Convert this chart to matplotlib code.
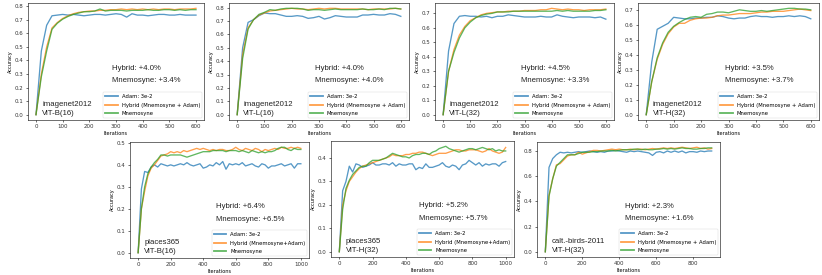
import matplotlib
matplotlib.use("Agg")
import matplotlib.pyplot as plt
import numpy as np

# ---------------- data ----------------
it_600 = list(range(0, 601, 20))
it_1000 = list(range(0, 1001, 20))
it_900 = list(range(0, 901, 20))

adam1 = [0.0, 0.47, 0.66, 0.73, 0.735, 0.74, 0.735, 0.74, 0.735, 0.73,
         0.735, 0.74, 0.74, 0.735, 0.74, 0.745, 0.74, 0.72, 0.745, 0.735,
         0.735, 0.73, 0.735, 0.74, 0.74, 0.735, 0.735, 0.74, 0.735, 0.735, 0.735]
hybrid1 = [0.0, 0.30, 0.50, 0.64, 0.68, 0.71, 0.73, 0.745, 0.755, 0.76,
           0.765, 0.765, 0.77, 0.77, 0.775, 0.775, 0.78, 0.775, 0.78, 0.775,
           0.78, 0.775, 0.78, 0.775, 0.78, 0.78, 0.775, 0.78, 0.78, 0.78, 0.785]
mnem1 = [0.0, 0.28, 0.47, 0.63, 0.675, 0.705, 0.725, 0.74, 0.75, 0.76,
         0.76, 0.765, 0.78, 0.765, 0.77, 0.77, 0.77, 0.765, 0.77, 0.77,
         0.77, 0.775, 0.77, 0.77, 0.775, 0.775, 0.77, 0.775, 0.77, 0.775, 0.775]

adam2 = [0.0, 0.50, 0.69, 0.71, 0.74, 0.76, 0.755, 0.755, 0.745, 0.735,
         0.735, 0.74, 0.735, 0.72, 0.725, 0.735, 0.715, 0.725, 0.74, 0.735,
         0.73, 0.73, 0.73, 0.745, 0.745, 0.75, 0.745, 0.745, 0.755, 0.75, 0.735]
hybrid2 = [0.0, 0.45, 0.65, 0.71, 0.745, 0.76, 0.775, 0.78, 0.785, 0.79,
           0.795, 0.79, 0.79, 0.785, 0.79, 0.795, 0.79, 0.795, 0.795, 0.79,
           0.79, 0.79, 0.79, 0.79, 0.785, 0.79, 0.79, 0.79, 0.79, 0.795, 0.79]
mnem2 = [0.0, 0.42, 0.64, 0.71, 0.75, 0.765, 0.785, 0.78, 0.79, 0.795,
         0.795, 0.795, 0.79, 0.78, 0.785, 0.785, 0.78, 0.785, 0.79, 0.785,
         0.785, 0.785, 0.785, 0.79, 0.785, 0.785, 0.79, 0.785, 0.795, 0.795, 0.79]

adam3 = [0.0, 0.44, 0.63, 0.68, 0.685, 0.68, 0.68, 0.675, 0.68, 0.67,
         0.68, 0.68, 0.69, 0.685, 0.68, 0.675, 0.675, 0.675, 0.68, 0.675,
         0.675, 0.69, 0.68, 0.675, 0.67, 0.675, 0.675, 0.675, 0.67, 0.675, 0.66]
hybrid3 = [0.0, 0.30, 0.45, 0.55, 0.61, 0.65, 0.67, 0.69, 0.70, 0.705,
           0.71, 0.71, 0.715, 0.715, 0.715, 0.72, 0.72, 0.72, 0.725, 0.725,
           0.735, 0.73, 0.725, 0.73, 0.725, 0.725, 0.72, 0.725, 0.725, 0.725, 0.73]
mnem3 = [0.0, 0.30, 0.43, 0.53, 0.60, 0.64, 0.67, 0.685, 0.695, 0.70,
         0.71, 0.71, 0.71, 0.715, 0.715, 0.715, 0.715, 0.715, 0.715, 0.715,
         0.715, 0.72, 0.715, 0.72, 0.715, 0.715, 0.715, 0.715, 0.72, 0.72, 0.725]

adam4 = [0.0, 0.35, 0.57, 0.59, 0.61, 0.65, 0.645, 0.64, 0.64, 0.645,
         0.645, 0.65, 0.65, 0.66, 0.655, 0.645, 0.64, 0.645, 0.645, 0.655,
         0.66, 0.655, 0.655, 0.65, 0.655, 0.655, 0.66, 0.655, 0.66, 0.655, 0.64]
hybrid4 = [0.0, 0.22, 0.37, 0.47, 0.54, 0.585, 0.61, 0.61, 0.63, 0.64,
           0.645, 0.645, 0.65, 0.66, 0.665, 0.665, 0.67, 0.675, 0.675, 0.675,
           0.68, 0.685, 0.685, 0.69, 0.69, 0.69, 0.695, 0.70, 0.705, 0.70, 0.695]
mnem4 = [0.0, 0.22, 0.38, 0.48, 0.55, 0.59, 0.615, 0.635, 0.65, 0.655,
         0.65, 0.67, 0.675, 0.685, 0.685, 0.68, 0.69, 0.70, 0.695, 0.69,
         0.69, 0.695, 0.69, 0.695, 0.70, 0.705, 0.71, 0.71, 0.705, 0.705, 0.70]

adam5 = [0.0, 0.29, 0.37, 0.365, 0.39, 0.40, 0.39, 0.405, 0.40, 0.395,
         0.40, 0.395, 0.40, 0.405, 0.40, 0.41, 0.40, 0.395, 0.40, 0.405,
         0.385, 0.39, 0.40, 0.395, 0.41, 0.40, 0.415, 0.38, 0.405, 0.40,
         0.405, 0.40, 0.41, 0.395, 0.40, 0.405, 0.395, 0.39, 0.405, 0.40,
         0.385, 0.395, 0.395, 0.40, 0.405, 0.395, 0.40, 0.405, 0.385, 0.405,
         0.405]
hybrid5 = [0.0, 0.20, 0.28, 0.35, 0.385, 0.40, 0.42, 0.44, 0.445, 0.45,
           0.46, 0.455, 0.46, 0.455, 0.465, 0.46, 0.465, 0.47, 0.475, 0.47,
           0.475, 0.47, 0.465, 0.47, 0.465, 0.47, 0.47, 0.465, 0.465, 0.47,
           0.48, 0.47, 0.465, 0.475, 0.47, 0.465, 0.475, 0.47, 0.46, 0.47,
           0.465, 0.47, 0.475, 0.47, 0.48, 0.475, 0.475, 0.48, 0.475, 0.48,
           0.475]
mnem5 = [0.0, 0.20, 0.30, 0.36, 0.39, 0.41, 0.425, 0.445, 0.445, 0.44,
         0.445, 0.445, 0.445, 0.445, 0.44, 0.435, 0.44, 0.445, 0.45, 0.455,
         0.46, 0.46, 0.46, 0.465, 0.465, 0.465, 0.465, 0.46, 0.465, 0.465,
         0.465, 0.46, 0.465, 0.46, 0.455, 0.465, 0.46, 0.455, 0.46, 0.455,
         0.46, 0.46, 0.465, 0.475, 0.48, 0.48, 0.47, 0.465, 0.475, 0.47,
         0.47]

adam6 = [0.0, 0.26, 0.30, 0.365, 0.34, 0.375, 0.37, 0.36, 0.365, 0.37,
         0.38, 0.37, 0.37, 0.375, 0.375, 0.37, 0.38, 0.365, 0.375, 0.37,
         0.37, 0.375, 0.375, 0.35, 0.36, 0.355, 0.375, 0.36, 0.36, 0.365,
         0.37, 0.38, 0.365, 0.36, 0.37, 0.365, 0.35, 0.37, 0.375, 0.39,
         0.38, 0.37, 0.38, 0.365, 0.375, 0.37, 0.375, 0.375, 0.365, 0.38,
         0.385]
hybrid6 = [0.0, 0.20, 0.26, 0.30, 0.32, 0.34, 0.355, 0.365, 0.37, 0.375,
           0.38, 0.385, 0.39, 0.395, 0.40, 0.405, 0.415, 0.41, 0.41, 0.41,
           0.415, 0.415, 0.42, 0.42, 0.425, 0.425, 0.42, 0.415, 0.41, 0.415,
           0.42, 0.42, 0.42, 0.425, 0.43, 0.435, 0.435, 0.43, 0.43, 0.435,
           0.435, 0.435, 0.43, 0.425, 0.43, 0.44, 0.43, 0.425, 0.42, 0.425,
           0.445]
mnem6 = [0.0, 0.18, 0.27, 0.305, 0.33, 0.345, 0.36, 0.365, 0.365, 0.38,
         0.39, 0.39, 0.39, 0.395, 0.40, 0.41, 0.42, 0.415, 0.41, 0.405,
         0.405, 0.40, 0.41, 0.415, 0.415, 0.42, 0.42, 0.415, 0.425, 0.43,
         0.44, 0.445, 0.45, 0.44, 0.435, 0.43, 0.425, 0.43, 0.435, 0.44,
         0.44, 0.435, 0.44, 0.445, 0.44, 0.435, 0.44, 0.43, 0.435, 0.43,
         0.43]

adam7 = [0.0, 0.67, 0.74, 0.77, 0.79, 0.785, 0.79, 0.785, 0.79, 0.795,
         0.79, 0.795, 0.80, 0.795, 0.79, 0.795, 0.79, 0.80, 0.80, 0.805,
         0.80, 0.795, 0.79, 0.80, 0.795, 0.80, 0.795, 0.79, 0.785, 0.765,
         0.79, 0.795, 0.785, 0.80, 0.79, 0.80, 0.79, 0.80, 0.785, 0.795,
         0.795, 0.79, 0.80, 0.795, 0.80, 0.80]
hybrid7 = [0.0, 0.45, 0.58, 0.69, 0.70, 0.73, 0.76, 0.77, 0.77, 0.79,
           0.775, 0.785, 0.795, 0.805, 0.805, 0.80, 0.805, 0.81, 0.815, 0.81,
           0.815, 0.81, 0.81, 0.815, 0.81, 0.815, 0.815, 0.81, 0.815, 0.82,
           0.815, 0.82, 0.825, 0.82, 0.825, 0.82, 0.825, 0.83, 0.825, 0.82,
           0.825, 0.83, 0.82, 0.825, 0.815, 0.82]
mnem7 = [0.0, 0.44, 0.58, 0.68, 0.71, 0.74, 0.77, 0.77, 0.77, 0.78,
         0.79, 0.79, 0.79, 0.795, 0.795, 0.80, 0.80, 0.80, 0.805, 0.80,
         0.805, 0.81, 0.81, 0.81, 0.815, 0.815, 0.81, 0.815, 0.81, 0.81,
         0.815, 0.815, 0.82, 0.815, 0.82, 0.815, 0.82, 0.825, 0.82, 0.82,
         0.815, 0.815, 0.82, 0.82, 0.825, 0.825]

datasets = ["imagenet2012", "imagenet2012", "imagenet2012", "imagenet2012",
            "places365", "places365", "calt.-birds-2011"]
models = ["ViT-B(16)", "ViT-L(16)", "ViT-L(32)", "ViT-H(32)",
          "ViT-B(16)", "ViT-H(32)", "ViT-H(32)"]
hybrid_gain = ["+4.0%", "+4.0%", "+4.5%", "+3.5%", "+6.4%", "+5.2%", "+2.3%"]
mnem_gain = ["+3.4%", "+4.0%", "+3.3%", "+3.7%", "+6.5%", "+5.7%", "+1.6%"]
hybrid_labels = ["Hybrid (Mnemosyne + Adam)"] * 4 + ["Hybrid (Mnemosyne+Adam)"] * 2 + ["Hybrid (Mnemosyne + Adam)"]

iters = [it_600, it_600, it_600, it_600, it_1000, it_1000, it_900]
adam_all = [adam1, adam2, adam3, adam4, adam5, adam6, adam7]
hybrid_all = [hybrid1, hybrid2, hybrid3, hybrid4, hybrid5, hybrid6, hybrid7]
mnem_all = [mnem1, mnem2, mnem3, mnem4, mnem5, mnem6, mnem7]
xticks_all = [range(0, 601, 100)] * 4 + [range(0, 1001, 200)] * 2 + [range(0, 801, 200)]
yticks_all = [np.arange(0, 0.81, 0.1), np.arange(0, 0.81, 0.1), np.arange(0, 0.71, 0.1),
              np.arange(0, 0.71, 0.1), np.arange(0, 0.51, 0.1), np.arange(0, 0.41, 0.1),
              np.arange(0, 0.81, 0.2)]

# ---------------- layout (pixel boxes: left, right, top, bottom) ----------------
W, H = 822, 275
boxes = [(28, 204, 3, 120), (229, 409, 3, 120), (435, 614, 3, 120), (638, 819, 3, 120),
         (130, 309, 142, 258), (331, 514, 141, 257), (537, 720, 142, 257)]

fig = plt.figure(figsize=(W / 100, H / 100), dpi=100)
C_ADAM, C_HYB, C_MNE = "#1f77b4", "#ff7f0e", "#2ca02c"

for k in range(7):
    l, r, t, b = boxes[k]
    ax = fig.add_axes([l / W, 1 - b / H, (r - l) / W, (b - t) / H])
    x = iters[k]
    ax.plot(x, adam_all[k], color=C_ADAM, lw=0.95, alpha=0.75, label="Adam: 3e-2")
    ax.plot(x, hybrid_all[k], color=C_HYB, lw=0.95, alpha=0.75, label=hybrid_labels[k])
    ax.plot(x, mnem_all[k], color=C_MNE, lw=0.95, alpha=0.75, label="Mnemosyne")
    ax.set_xticks(list(xticks_all[k]))
    ax.set_yticks(yticks_all[k])
    ax.set_yticklabels([f"{v:.1f}" for v in yticks_all[k]])
    ax.tick_params(labelsize=4, length=1.5, width=0.4, pad=1.5, labelcolor="#333333")
    for s in ax.spines.values():
        s.set_linewidth(0.4)
    ax.set_xlabel("Iterations", fontsize=3.6, labelpad=1)
    ax.set_ylabel("Accuracy", fontsize=3.6, labelpad=1.5)
    leg = ax.legend(loc="lower right", fontsize=3.8, handlelength=2.3,
                    borderaxespad=0.3, borderpad=0.4, labelspacing=0.7,
                    handletextpad=0.8, framealpha=0.8)
    leg.get_frame().set_linewidth(0.3)
    for ln in leg.get_lines():
        ln.set_linewidth(1.3)
    tf = dict(transform=ax.transAxes, fontsize=5.6, family="Liberation Sans",
              va="center", ha="left", color="#222222")
    ax.text(0.48, 0.44, f"Hybrid: {hybrid_gain[k]}", **tf)
    ax.text(0.48, 0.335, f"Mnemosyne: {mnem_gain[k]}", **tf)
    ax.text(0.08, 0.135, datasets[k], **tf)
    ax.text(0.08, 0.055, models[k], **tf)

fig.savefig("out.png", dpi=100)
